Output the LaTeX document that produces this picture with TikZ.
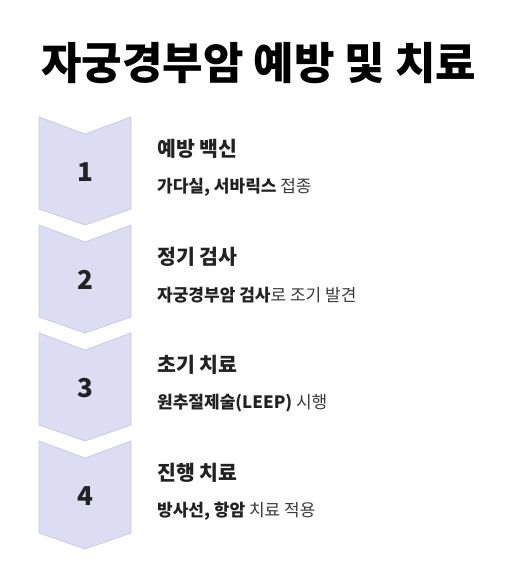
\documentclass[tikz,border=0pt]{standalone}
\usepackage{fontspec}
\setmainfont{Noto Sans CJK KR}
\usetikzlibrary{positioning}
\definecolor{chevfill}{HTML}{DCDDF2}
\definecolor{chevline}{HTML}{C9CBEA}
\definecolor{inkdark}{HTML}{222222}
\definecolor{inkgray}{HTML}{3A3A3A}
\tikzset{
    chev/.style = {fill=chevfill,draw=chevline,line width=0.8pt,line join=miter},
    stepnum/.style = {inner sep=0pt,text=inkdark,font=\bfseries\fontsize{26}{26}\selectfont},
    head/.style = {anchor=west,inner sep=0pt,text=inkdark,font=\bfseries\fontsize{20.5}{20.5}\selectfont},
    sub/.style = {anchor=west,inner sep=0pt,text=inkgray,font=\fontsize{17}{17}\selectfont},
    ttl/.style = {anchor=west,inner sep=0pt,text=black,font=\bfseries\fontsize{44}{44}\selectfont}
}
\begin{document}
\begin{tikzpicture}[x=1pt,y=-1pt]
\useasboundingbox (0,0) rectangle (515,581);
%
\node[ttl] at (41,63) (title) {자궁경부암 예방 및 치료};
%
\draw[chev] (39,117) -- (85,134) -- (131,117) -- (131,209) -- (85,225) -- (39,209) -- cycle;
\draw[chev] (39,225) -- (85,242) -- (131,225) -- (131,317) -- (85,333) -- (39,317) -- cycle;
\draw[chev] (39,333) -- (85,350) -- (131,333) -- (131,425) -- (85,441) -- (39,425) -- cycle;
\draw[chev] (39,441) -- (85,458) -- (131,441) -- (131,533) -- (85,549) -- (39,533) -- cycle;
%
\node[stepnum] at (85,172) (n1) {1};
\node[stepnum] at (85,280) (n2) {2};
\node[stepnum] at (85,388) (n3) {3};
\node[stepnum] at (85,496) (n4) {4};
%
\node[head] at (157,149) (h1) {예방 백신};
\node[sub] at (157,187) (s1) {\textbf{\color{inkdark}가다실, 서바릭스} 접종};
\node[head] at (157,257) (h2) {정기 검사};
\node[sub] at (157,295) (s2) {\textbf{\color{inkdark}자궁경부암 검사}로 조기 발견};
\node[head] at (157,365) (h3) {초기 치료};
\node[sub] at (157,403) (s3) {\textbf{\color{inkdark}원추절제술(LEEP)} 시행};
\node[head] at (157,473) (h4) {진행 치료};
\node[sub] at (157,511) (s4) {\textbf{\color{inkdark}방사선, 항암} 치료 적용};
\end{tikzpicture}
\end{document}
